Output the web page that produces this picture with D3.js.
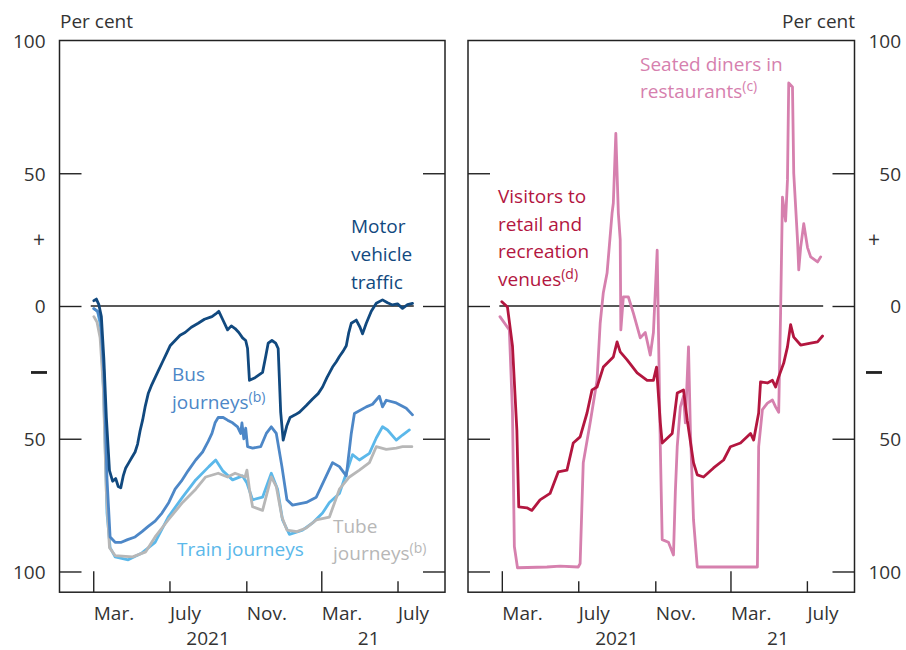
<!DOCTYPE html>
<html><head><meta charset="utf-8">
<script src="https://cdn.jsdelivr.net/npm/d3@7"></script>
<style>
body{margin:0;background:#fff;}
svg text{font-family:"Open Sans","Noto Sans",sans-serif;}
</style></head>
<body><svg id="c" width="906" height="650"></svg>
<script>
// ---------- data (per cent difference from pre-pandemic level) ----------
const motorTraffic = [
["2020-03-02",2],["2020-03-06",2.6],["2020-03-10",0.5],["2020-03-14",-4],["2020-03-18",-20],["2020-03-22",-42],["2020-03-27",-62],
["2020-04-01",-66],["2020-04-06",-65],["2020-04-10",-68],["2020-04-14",-68.5],["2020-04-18",-64],["2020-04-22",-61],["2020-04-27",-59],
["2020-05-02",-57],["2020-05-07",-55],["2020-05-11",-52],["2020-05-15",-47],["2020-05-19",-43],["2020-05-23",-38],["2020-05-28",-33],
["2020-06-02",-30],["2020-06-08",-27],["2020-06-14",-24],["2020-06-20",-21],["2020-06-26",-18],["2020-07-02",-15],["2020-07-10",-13],
["2020-07-18",-11],["2020-07-26",-10],["2020-08-05",-8],["2020-08-16",-6.5],["2020-08-26",-5],["2020-09-07",-4],["2020-09-13",-3],
["2020-09-18",-2],["2020-09-24",-5],["2020-10-02",-9],["2020-10-08",-7.5],["2020-10-14",-8.5],["2020-10-20",-10],["2020-10-26",-12],
["2020-10-31",-13],["2020-11-03",-16],["2020-11-06",-28],["2020-11-15",-27],["2020-11-27",-25],["2020-12-02",-19],["2020-12-06",-14],
["2020-12-12",-13],["2020-12-18",-14],["2020-12-22",-16],["2020-12-26",-40],["2020-12-30",-50.5],["2021-01-05",-45],["2021-01-10",-42],
["2021-01-18",-41],["2021-01-25",-40],["2021-02-05",-37.5],["2021-02-15",-35],["2021-02-24",-33],["2021-03-03",-30.5],["2021-03-10",-27],
["2021-03-19",-23],["2021-03-25",-21],["2021-03-30",-19],["2021-04-05",-17],["2021-04-10",-15],["2021-04-14",-10],["2021-04-18",-6.5],
["2021-04-26",-5.3],["2021-05-02",-8],["2021-05-06",-10.5],["2021-05-12",-6.5],["2021-05-20",-2],["2021-05-28",1],["2021-06-07",2.3],
["2021-06-15",1.2],["2021-06-23",0.4],["2021-07-01",0.8],["2021-07-09",-0.9],["2021-07-17",0.5],["2021-07-25",1]
];
const busJourneys = [
["2020-03-02",-1],["2020-03-08",-2],["2020-03-13",-6],["2020-03-18",-25],["2020-03-23",-65],["2020-03-28",-87],["2020-04-05",-89],
["2020-04-15",-89],["2020-04-25",-88],["2020-05-07",-87],["2020-05-18",-85],["2020-05-28",-83],["2020-06-08",-81],["2020-06-19",-78],
["2020-06-30",-74],["2020-07-10",-69],["2020-07-20",-66],["2020-07-31",-62],["2020-08-12",-58],["2020-08-23",-55],["2020-09-01",-51],
["2020-09-07",-48],["2020-09-12",-44],["2020-09-17",-42],["2020-09-25",-42],["2020-10-02",-43],["2020-10-10",-44],["2020-10-18",-45.5],
["2020-10-23",-48],["2020-10-25",-44],["2020-10-28",-50],["2020-10-31",-46],["2020-11-03",-53],["2020-11-11",-53.5],["2020-11-24",-53],
["2020-12-03",-48],["2020-12-11",-45.5],["2020-12-19",-48],["2020-12-28",-60.5],["2021-01-05",-73],["2021-01-14",-75],["2021-02-05",-74],
["2021-02-21",-72],["2021-03-09",-64],["2021-03-19",-59],["2021-03-30",-60.5],["2021-04-10",-64],["2021-04-18",-48],["2021-04-23",-40.5],
["2021-05-12",-38],["2021-05-22",-37],["2021-06-02",-34],["2021-06-07",-38],["2021-06-13",-35.5],["2021-06-29",-36.5],["2021-07-15",-38.5],
["2021-07-25",-41]
];
const trainJourneys = [
["2020-03-02",-1],["2020-03-08",-2],["2020-03-13",-8],["2020-03-18",-35],["2020-03-23",-78],["2020-03-28",-91],["2020-04-05",-94.5],
["2020-04-26",-95.6],["2020-05-18",-93],["2020-06-08",-89],["2020-06-29",-79.5],["2020-07-22",-72],["2020-08-12",-65.5],["2020-09-02",-60.5],
["2020-09-13",-58],["2020-09-24",-62],["2020-10-10",-65.5],["2020-10-26",-64],["2020-11-02",-66.7],["2020-11-11",-73],["2020-11-27",-72],
["2020-12-11",-63],["2020-12-21",-69],["2020-12-29",-80.6],["2021-01-09",-86],["2021-01-30",-84.4],["2021-02-15",-81.7],["2021-03-03",-78],
["2021-03-14",-74],["2021-03-30",-70.6],["2021-04-10",-63],["2021-04-20",-56],["2021-05-01",-58],["2021-05-17",-55.5],["2021-05-28",-49.7],
["2021-06-07",-45.5],["2021-06-15",-46.7],["2021-06-29",-50.5],["2021-07-09",-48.6],["2021-07-20",-46.7]
];
const tubeJourneys = [
["2020-03-02",-4],["2020-03-07",-6],["2020-03-12",-12],["2020-03-17",-30],["2020-03-22",-70],["2020-03-27",-91],["2020-04-05",-94],
["2020-05-03",-94.5],["2020-05-24",-92.6],["2020-06-08",-87],["2020-06-29",-80.6],["2020-07-22",-74],["2020-08-12",-69],["2020-08-28",-64.4],
["2020-09-17",-63],["2020-10-02",-64.4],["2020-10-14",-63],["2020-10-30",-64.4],["2020-11-02",-61.8],["2020-11-06",-69],["2020-11-11",-75.6],
["2020-11-27",-77],["2020-12-11",-64.4],["2020-12-19",-68],["2020-12-28",-79.5],["2021-01-05",-84.4],["2021-01-21",-85],["2021-02-05",-83.6],
["2021-02-21",-80.6],["2021-03-14",-79.5],["2021-03-30",-69],["2021-04-15",-64.4],["2021-05-01",-61.8],["2021-05-17",-59],["2021-05-28",-53],
["2021-06-13",-54],["2021-06-29",-53.5],["2021-07-09",-53],["2021-07-24",-53]
];
const retailVisitors = [
["2020-03-01",1.6],["2020-03-10",-0.4],["2020-03-18",-15],["2020-03-25",-46.7],["2020-03-28",-75.7],["2020-04-10",-76],["2020-04-18",-77],
["2020-05-01",-73],["2020-05-17",-70.6],["2020-05-30",-62.5],["2020-06-13",-61.8],["2020-06-23",-51.6],["2020-07-04",-49.3],["2020-07-15",-40.3],
["2020-07-23",-31.6],["2020-07-31",-30.5],["2020-08-10",-23],["2020-08-26",-19.2],["2020-09-01",-13.5],["2020-09-06",-17.3],["2020-09-17",-20.3],
["2020-10-03",-25.2],["2020-10-19",-28],["2020-10-29",-28],["2020-11-03",-23],["2020-11-09",-44],["2020-11-12",-51.6],["2020-11-28",-48],
["2020-12-06",-32.8],["2020-12-16",-31.6],["2020-12-22",-43],["2021-01-01",-59],["2021-01-07",-63.6],["2021-01-17",-64.4],["2021-02-02",-61],
["2021-02-18",-58],["2021-03-01",-53],["2021-03-17",-51.6],["2021-04-02",-48],["2021-04-07",-50.5],["2021-04-15",-40.3],["2021-04-18",-28.6],
["2021-04-29",-29],["2021-05-07",-28],["2021-05-12",-30.5],["2021-05-17",-26.7],["2021-05-25",-21.5],["2021-05-31",-15.4],["2021-06-05",-7],
["2021-06-10",-11.7],["2021-06-21",-14.7],["2021-07-07",-14],["2021-07-18",-13.5],["2021-07-26",-11.3]
];
const seatedDiners = [
["2020-02-27",-4],["2020-03-13",-9],["2020-03-18",-40],["2020-03-21",-90.6],["2020-03-26",-98.6],["2020-05-12",-98.3],["2020-06-02",-98],
["2020-07-01",-98.3],["2020-07-04",-97],["2020-07-09",-59],["2020-07-20",-44],["2020-07-31",-28],["2020-08-05",-6.5],["2020-08-10",5],
["2020-08-16",12.4],["2020-08-24",35],["2020-08-26",38.8],["2020-08-30",65],["2020-09-03",35],["2020-09-06",25],["2020-09-07",-9],
["2020-09-11",3.4],["2020-09-19",3.4],["2020-09-27",-2.7],["2020-10-08",-12],["2020-10-16",-10],["2020-10-24",-18.5],["2020-10-29",-10],
["2020-11-04",21],["2020-11-09",-53],["2020-11-12",-88],["2020-11-22",-89],["2020-11-30",-93.8],["2020-12-03",-70],["2020-12-06",-53],
["2020-12-11",-38],["2020-12-16",-34],["2020-12-19",-44],["2020-12-24",-15.4],["2020-12-27",-46.7],["2021-01-01",-80.6],["2021-01-07",-98.3],
["2021-04-13",-98.3],["2021-04-15",-53],["2021-04-21",-39],["2021-04-29",-36.6],["2021-05-07",-35.4],["2021-05-12",-38],["2021-05-17",-40],
["2021-05-20",-2.7],["2021-05-23",41],["2021-05-28",32],["2021-05-31",47.5],["2021-06-02",84],["2021-06-08",82.5],["2021-06-10",50],
["2021-06-16",25],["2021-06-18",13.6],["2021-06-21",22],["2021-06-26",31],["2021-07-02",22],["2021-07-07",18.5],["2021-07-18",16.6],
["2021-07-23",18.5]
];
const monthTicks = ["2020-03-01","2020-07-01","2020-11-01","2021-03-01","2021-07-01"];
const monthLabels = ["Mar.","July","Nov.","Mar.","July"];
const yearTicks = ["2020-08-31","2021-05-15"];
const yearLabels = ["2021","21"];
const yTicks = [100,50,0,-50,-100];
const xDomain = ["2020-01-07","2021-09-15"];
const zeroSpan = ["2020-02-26","2021-07-27"];

// ---------- layout ----------
const P = d3.timeParse("%Y-%m-%d");
const svg = d3.select("#c");
const yTop = 40.5, yBot = 592.2;
const y = d3.scaleLinear().domain([-107.8,100]).range([yBot, yTop]);
const panels = [
  {x0:59.5, x1:445, series:[
     {d:trainJourneys,c:"#5bb8ea"},{d:tubeJourneys,c:"#b7b7b7"},{d:busJourneys,c:"#4d87c7"},{d:motorTraffic,c:"#11497f"}]},
  {x0:468, x1:854.5, series:[
     {d:seatedDiners,c:"#d680ae"},{d:retailVisitors,c:"#b3163f"}]}
];
const ink = "#222";
const fs = 19;

panels.forEach((p,i)=>{
  const x = d3.scaleTime().domain(xDomain.map(P)).range([p.x0,p.x1]);
  const g = svg.append("g");
  g.append("line").attr("x1",x(P(zeroSpan[0]))).attr("x2",x(P(zeroSpan[1])))
    .attr("y1",y(0)).attr("y2",y(0)).attr("stroke",ink).attr("stroke-width",1.3);
  const line = d3.line().x(d=>x(P(d[0]))).y(d=>y(d[1]));
  p.series.forEach(s=>{
    g.append("path").datum(s.d).attr("d",line).attr("fill","none")
      .attr("stroke",s.c).attr("stroke-width",2.8).attr("stroke-linejoin","round").attr("stroke-linecap","round");
  });
  const axL = d3.axisLeft(y).tickValues(yTicks.slice(1)).tickSize(-22).tickFormat("");
  const axR = d3.axisRight(y).tickValues(yTicks.slice(1)).tickSize(-22).tickFormat("");
  [ [axL,p.x0],[axR,p.x1] ].forEach(([ax,xx])=>{
    const a = g.append("g").attr("transform",`translate(${xx},0)`).call(ax);
    a.select(".domain").remove();
    a.selectAll("line").attr("stroke",ink).attr("stroke-width",1.4);
  });
  const ax = d3.axisBottom(x).tickValues(monthTicks.map(P)).tickSize(-11).tickPadding(0).tickFormat((d,k)=>monthLabels[k]);
  const a = g.append("g").attr("transform",`translate(0,${yBot})`).call(ax);
  a.select(".domain").remove();
  a.selectAll("line").attr("stroke",ink).attr("stroke-width",1.4)
    .attr("y2",(d)=>d.getMonth()===2 ? -21 : -11);
  a.selectAll("text").attr("text-anchor","start").attr("y",28).attr("dy",0)
    .attr("font-size",fs).attr("fill","#333").attr("font-family",null);
  const ya = d3.axisBottom(x).tickValues(yearTicks.map(P)).tickSize(0).tickPadding(0).tickFormat((d,k)=>yearLabels[k]);
  const b = g.append("g").attr("transform",`translate(0,${yBot})`).call(ya);
  b.select(".domain").remove();
  b.selectAll("text").attr("y",52.5).attr("dy",0).attr("font-size",fs).attr("fill","#333").attr("font-family",null);
  g.append("rect").attr("x",p.x0).attr("y",yTop).attr("width",p.x1-p.x0).attr("height",yBot-yTop)
    .attr("fill","none").attr("stroke",ink).attr("stroke-width",1.5);
});

const fmt = d=>String(Math.abs(d));
const yl = svg.append("g").attr("transform","translate(59.5,0)").call(d3.axisLeft(y).tickValues(yTicks).tickSize(0).tickPadding(14).tickFormat(fmt));
const yr = svg.append("g").attr("transform","translate(854.5,0)").call(d3.axisRight(y).tickValues(yTicks).tickSize(0).tickPadding(46.5).tickFormat(fmt));
[yl,yr].forEach(a=>{a.select(".domain").remove();
  a.selectAll("text").attr("font-size",fs).attr("fill","#333").attr("font-family",null).attr("dy","0.36em");});
yr.selectAll("text").attr("text-anchor","end");
[39,874].forEach(xx=>{
  svg.append("text").attr("x",xx).attr("y",y(25)).attr("dy","0.36em").attr("text-anchor","middle")
    .attr("font-size",21).attr("fill","#333").text("+");
  svg.append("rect").attr("x",xx-8).attr("y",y(-25)-1.3).attr("width",16).attr("height",2.8).attr("fill","#222");
});
svg.append("text").attr("x",60).attr("y",28).attr("font-size",fs).attr("fill","#333").text("Per cent");
svg.append("text").attr("x",855).attr("y",28).attr("text-anchor","end").attr("font-size",fs).attr("fill","#333").text("Per cent");

function label(lines, x0, y0, lh, color){
  lines.forEach((ln,k)=>{
    const t = svg.append("text").attr("x",x0).attr("y",y0+k*lh).attr("font-size",fs).attr("fill",color);
    t.append("tspan").text(ln[0]);
    if(ln[1]) t.append("tspan").attr("font-size",14).attr("dy",-7).text(ln[1]);
  });
}
label([["Motor"],["vehicle"],["traffic"]],351,233,28,"#11497f");
label([["Bus"],["journeys","(b)"]],172,381,28,"#4d87c7");
label([["Train journeys"]],177,556,28,"#5bb8ea");
label([["Tube"],["journeys","(b)"]],333,533,27,"#b7b7b7");
label([["Seated diners in"],["restaurants","(c)"]],640,71,27,"#d680ae");
label([["Visitors to"],["retail and"],["recreation"],["venues","(d)"]],498,203,27.5,"#b3163f");
</script></body></html>
